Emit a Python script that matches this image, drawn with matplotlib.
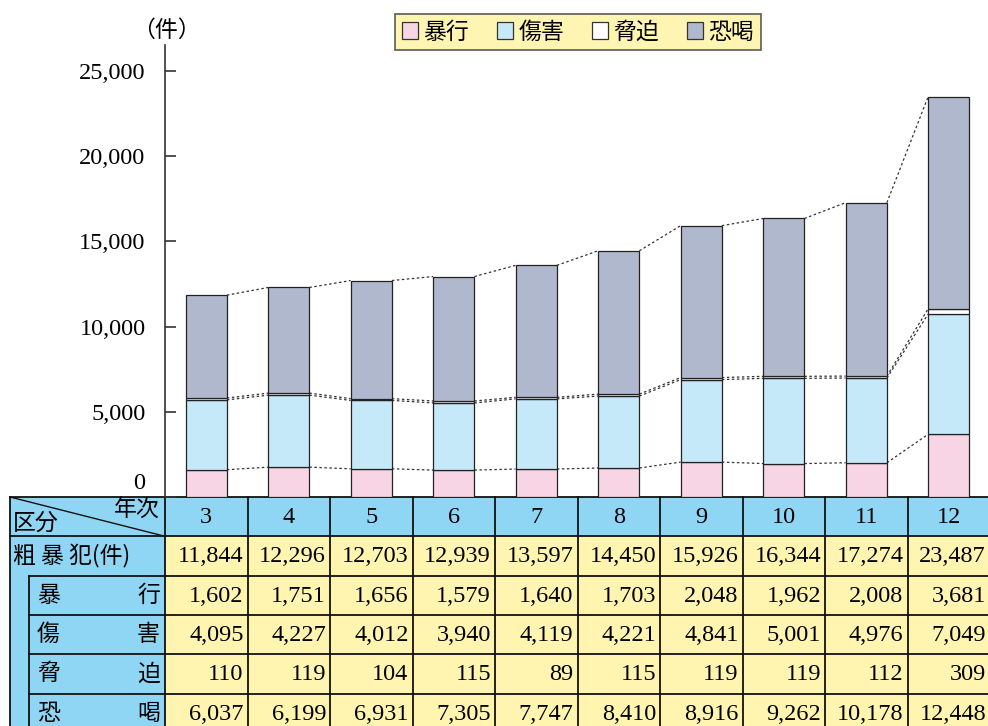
import matplotlib
matplotlib.use("Agg")
import matplotlib.pyplot as plt
from matplotlib.patches import Patch, Rectangle
import matplotlib.transforms as mtransforms

# ---- data -------------------------------------------------------------
years = ["3", "4", "5", "6", "7", "8", "9", "10", "11", "12"]
total = [11844, 12296, 12703, 12939, 13597, 14450, 15926, 16344, 17274, 23487]
boko = [1602, 1751, 1656, 1579, 1640, 1703, 2048, 1962, 2008, 3681]
shogai = [4095, 4227, 4012, 3940, 4119, 4221, 4841, 5001, 4976, 7049]
kyohaku = [110, 119, 104, 115, 89, 115, 119, 119, 112, 309]
kakatsu = [6037, 6199, 6931, 7305, 7747, 8410, 8916, 9262, 10178, 12448]

series_names = ["暴行", "傷害", "脅迫", "恐喝"]
series_vals = [boko, shogai, kyohaku, kakatsu]
series_cols = ["#F8D5E5", "#C6E9F9", "#FFFFFF", "#AFB8CC"]
yticks = [0, 5000, 10000, 15000, 20000, 25000]

row_labels = [("粗 暴 犯(件)", None), ("暴", "行"), ("傷", "害"), ("脅", "迫"), ("恐", "喝")]
row_vals = [total, boko, shogai, kyohaku, kakatsu]

JP = ["Noto Sans CJK JP", "DejaVu Sans"]
NUM = "Liberation Serif"
BLUE = "#8FD6F5"
YELLOW = "#FFF5B0"
EDGE = "#222222"
JPSIZE = 16.5
NUMSIZE = 17.5

W, H = 988, 726
fig = plt.figure(figsize=(W / 100, H / 100), dpi=100)

# ---- layout in pixels ---------------------------------------------------
x_lab_l, x_sub_l, x_lab_r = 10, 29, 165
col_w = 82.5
y0 = 497          # baseline / table top
y_axis_top = 45
row_h = 39.3

# ---- bar chart -----------------------------------------------------------
ymax = 25000 * (y0 - y_axis_top) / (y0 - 71)
ax = fig.add_axes([x_lab_r / W, (H - y0) / H, col_w * 10 / W, (y0 - y_axis_top) / H])
ax.set_xlim(-0.5, 9.5)
ax.set_ylim(0, ymax)
xs = list(range(len(years)))
bw = 0.5
bottoms = [0] * len(years)
levels = []
for vals, col in zip(series_vals, series_cols):
    ax.bar(xs, vals, bottom=bottoms, width=bw, color=col, edgecolor=EDGE, linewidth=0.9, zorder=3)
    bottoms = [b + v for b, v in zip(bottoms, vals)]
    levels.append(list(bottoms))

# dotted connectors between neighbouring bars at every segment boundary
for lev in levels:
    for i in range(len(xs) - 1):
        ax.plot([xs[i] + bw / 2, xs[i + 1] - bw / 2], [lev[i], lev[i + 1]],
                color="#333333", lw=0.9, ls=(0, (2, 2)), zorder=2)

for s in ["top", "right", "bottom"]:
    ax.spines[s].set_visible(False)
ax.spines["left"].set_color("#333333")
ax.spines["left"].set_linewidth(1.2)
ax.set_xticks([])
ax.set_yticks(yticks)
ax.set_yticklabels([f"{v:,}" for v in yticks], fontname=NUM, fontsize=NUMSIZE)
ax.tick_params(axis="y", direction="in", length=8, width=1.2, color="#333333", pad=14)
# the zero label sits just above the baseline
zero_lbl = ax.get_yticklabels()[0]
zero_lbl.set_verticalalignment("bottom")
zero_lbl.set_transform(zero_lbl.get_transform() +
                       mtransforms.ScaledTranslation(0, 3 / 100, fig.dpi_scale_trans))
ax.set_facecolor("none")

fig.text(166 / W, 1 - 30 / H, "（件）", family=JP, fontsize=JPSIZE, ha="center", va="center")

handles = [Patch(facecolor=c, edgecolor="#333333", linewidth=0.9) for c in series_cols]
leg = fig.legend(handles, series_names, ncol=4, loc="center",
                 bbox_to_anchor=(578 / W, 1 - 32 / H), frameon=True, fancybox=False,
                 prop={"family": JP, "size": JPSIZE}, handlelength=0.7, handleheight=0.7,
                 handletextpad=0.25, columnspacing=1.2, borderpad=0.3, borderaxespad=0)
leg.get_frame().set_facecolor("#FFF3A0")
leg.get_frame().set_edgecolor("#333333")
leg.get_frame().set_linewidth(1.2)

# ---- table --------------------------------------------------------------
tx = fig.add_axes([0, 0, 1, 1], zorder=-1)
tx.set_xlim(0, W)
tx.set_ylim(H, 0)
tx.axis("off")

x_right = x_lab_r + col_w * 10
rows_y = [y0 + row_h * k for k in range(7)]

# backgrounds
tx.add_patch(Rectangle((x_lab_l, y0), x_right - x_lab_l, row_h, facecolor=BLUE, edgecolor="none"))
tx.add_patch(Rectangle((x_lab_l, y0), x_lab_r - x_lab_l, H - y0 + 5, facecolor=BLUE, edgecolor="none"))
tx.add_patch(Rectangle((x_lab_r, y0 + row_h), x_right - x_lab_r, H - y0, facecolor=YELLOW, edgecolor="none"))

lc = dict(color="#111111", lw=1.3)
# horizontal rules
tx.plot([x_lab_l, x_right], [y0, y0], **lc)
tx.plot([x_lab_l, x_right], [rows_y[1]] * 2, **lc)
for k in range(2, 6):
    tx.plot([x_sub_l, x_right], [rows_y[k]] * 2, **lc)
# vertical rules
tx.plot([x_lab_l, x_lab_l], [y0, H + 5], **lc)
tx.plot([x_sub_l, x_sub_l], [rows_y[2], H + 5], **lc)
for j in range(11):
    xv = x_lab_r + col_w * j
    tx.plot([xv, xv], [y0, H + 5], **lc)

# header corner
tx.plot([x_lab_l, x_lab_r], [y0, rows_y[1]], color="#111111", lw=1.0)
tx.text(x_lab_r - 5, y0 + 12, "年次", family=JP, fontsize=JPSIZE, ha="right", va="center")
tx.text(x_lab_l + 3, y0 + 26, "区分", family=JP, fontsize=JPSIZE, ha="left", va="center")

for j, yr in enumerate(years):
    tx.text(x_lab_r + col_w * (j + 0.5), y0 + row_h / 2 + 1, yr, fontname=NUM,
            fontsize=NUMSIZE, ha="center", va="center")

for k, ((a, b), vals) in enumerate(zip(row_labels, row_vals)):
    yc = rows_y[k + 1] + row_h / 2
    if b is None:
        tx.text(x_lab_l + 3, yc, a, family=JP, fontsize=JPSIZE, ha="left", va="center")
    else:
        tx.text(x_sub_l + 8, yc, a, family=JP, fontsize=JPSIZE, ha="left", va="center")
        tx.text(x_lab_r - 5, yc, b, family=JP, fontsize=JPSIZE, ha="right", va="center")
    for j, v in enumerate(vals):
        tx.text(x_lab_r + col_w * (j + 1) - 4, yc + 1, f"{v:,}", fontname=NUM,
                fontsize=NUMSIZE, ha="right", va="center")

fig.savefig("out.png", dpi=100)
